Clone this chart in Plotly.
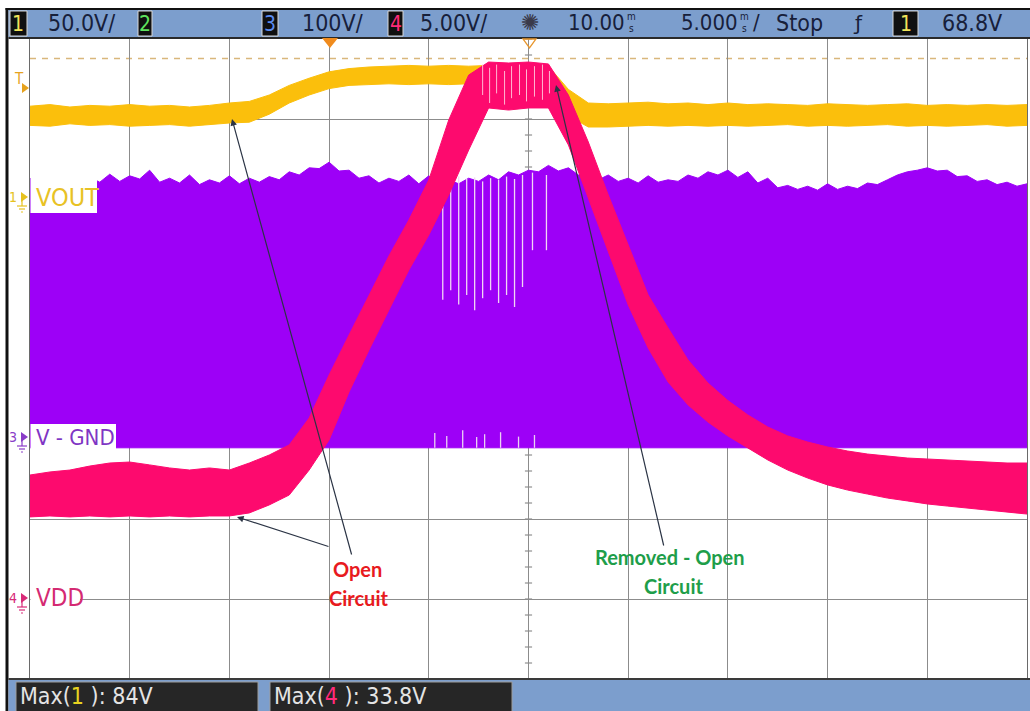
import plotly.graph_objects as go

W, H = 1030, 711

# ---------------- data ----------------
# time base 5 ms/div, delay 10 ms  ->  screen spans -15 .. 35 ms
t_ms = [-15, -14, -13, -12, -11, -10, -9, -8, -7, -6, -5, -4, -3, -2, -1, 0, 1, 2, 3, 4,
        5, 6, 7, 8, 9, 10, 11, 12, 13, 14, 15, 16, 17, 18, 19, 20, 21, 22, 23, 24, 25,
        26, 27, 28, 29, 30, 31, 32, 33, 34, 35]

# channel 1 (VOUT) envelope, volts
ch1_hi_v = [58.0, 59.0, 57.5, 58.5, 58.0, 59.0, 58.0, 58.5, 57.5, 58.5,
            60.0, 61.0, 65.0, 71.0, 75.5,
            79.5, 81.5, 82.5, 83.0, 83.5, 83.0, 83.5, 83.0, 83.5, 83.0, 83.5, 83.0,
            68.5, 60.0, 59.5,
            60.0, 60.5, 59.5, 60.0, 59.0, 60.0, 59.0, 59.5, 59.0, 58.5, 59.5,
            59.0, 58.5, 59.0, 59.5, 58.5, 59.0, 58.5, 59.0, 58.5, 59.0]
ch1_lo_v = [46.0, 45.5, 47.0, 46.0, 46.5, 45.5, 46.0, 46.5, 45.5, 46.5,
            47.5, 48.0, 53.0, 60.0, 65.0,
            69.0, 71.0, 71.5, 72.0, 71.5, 72.0, 71.5, 72.0, 72.0, 71.5, 72.0, 71.5,
            52.0, 45.0, 45.0, 45.5, 46.0, 45.5, 46.0, 45.5, 46.0, 45.5, 46.0, 46.5,
            45.5, 46.0, 45.5, 46.0, 46.5, 45.5, 46.0, 45.5, 46.0, 46.5, 45.5, 46.0]

# channel 4 (VDD) envelope, volts
ch4_hi_v = [7.75, 7.94, 8.06, 8.31, 8.5, 8.56, 8.38, 8.19, 8.06, 8.19,
            8.06, 8.5, 9.0, 9.63, 11.31,
            14.0, 16.5, 18.94, 21.44, 23.69,
            26.19, 29.94, 32.75, 33.56, 33.5,
            33.56, 33.44, 31.5, 28.56, 25.25,
            22.13, 19.0, 16.94, 14.94, 13.5,
            12.4, 11.5, 10.75, 10.19, 9.81,
            9.5, 9.25, 9.06, 8.94, 8.81,
            8.75, 8.69, 8.63, 8.56, 8.5, 8.5]
ch4_lo_v = [5.13, 5.19, 5.13, 5.19, 5.13, 5.19, 5.13, 5.19, 5.13, 5.19,
            5.19, 5.38, 5.88, 6.5, 8.06,
            9.94, 12.94, 15.56, 18.06, 20.56,
            22.75, 25.25, 28.06, 30.69, 30.56,
            30.69, 30.69, 28.38, 25.06, 21.69,
            18.38, 15.69, 13.56, 12.13, 11.06,
            10.19, 9.44, 8.69, 8.06, 7.56,
            7.13, 6.81, 6.56, 6.31, 6.13,
            5.94, 5.81, 5.69, 5.56, 5.44, 5.31]

# channel 3 (V - GND) switching envelope, volts
t3_ms = [-15.0, -14.5, -14.0, -13.5, -13.0, -12.5, -12.0, -11.5, -11.0, -10.5,
         -10.0, -9.5, -9.0, -8.5, -8.0, -7.5, -7.0, -6.5, -6.0, -5.5,
         -5.0, -4.5, -4.0, -3.5, -3.0, -2.5, -2.0, -1.5, -1.0, -0.5,
         0.0, 0.5, 1.0, 1.5, 2.0, 2.5, 3.0, 3.5, 4.0, 4.5,
         5.0, 5.5, 6.0, 6.5, 7.0, 7.5, 8.0, 8.5, 9.0, 9.5,
         10.0, 10.5, 11.0, 11.5, 12.0, 12.5, 13.0, 13.5, 14.0, 14.5,
         15.0, 15.5, 16.0, 16.5, 17.0, 17.5, 18.0, 18.5, 19.0, 19.5,
         20.0, 20.5, 21.0, 21.5, 22.0, 22.5, 23.0, 23.5, 24.0, 24.5,
         25.0, 25.5, 26.0, 26.5, 27.0, 27.5, 28.0, 28.5, 29.0, 29.5,
         30.0, 30.5, 31.0, 31.5, 32.0, 32.5, 33.0, 33.5, 34.0, 34.5, 35.0]
ch3_hi_v = [326, 318, 329, 322, 330, 320, 327, 321, 331, 322,
            329, 325, 336, 321, 326, 320, 330, 318, 324, 320,
            329, 319, 326, 321, 328, 324, 334, 330, 339, 338,
            346, 335, 336, 326, 329, 320, 326, 322, 330, 319,
            329, 318, 324, 319, 326, 322, 330, 324, 334, 330,
            336, 334, 342, 335, 339, 330, 334, 324, 330, 322,
            326, 320, 329, 321, 324, 322, 330, 326, 334, 330,
            336, 327, 334, 320, 326, 314, 317, 312, 316, 311,
            319, 312, 316, 313, 320, 318, 324, 330, 334, 336,
            339, 335, 336, 328, 329, 322, 324, 318, 321, 316, 319]
t3_base_ms = [-15, 35]
ch3_lo_v = [-11, -11]

# gaps (missing pulses) inside the ch3 envelope
gap_t_ms = [5.7, 6.1, 6.5, 6.9, 7.3, 7.7, 8.1, 8.5, 8.9, 9.3, 9.7, 10.2, 10.9]
gap_top_v = [326, 324, 328, 325, 327, 322, 326, 324, 328, 325, 330, 333, 330]
gap_bot_v = [174, 186, 168, 180, 161, 176, 186, 170, 180, 165, 190, 236, 236]
bgap_t_ms = [5.3, 5.9, 6.7, 7.4, 7.8, 8.6, 9.5, 10.3]
bgap_top_v = [7.5, 3.8, 11.0, 2.5, 6.0, 8.5, 3.0, 5.0]
# gaps inside the ch4 plateau
pgap_t_ms = [7.7, 8.05, 8.4, 8.8, 9.15, 9.55, 9.9, 10.3, 10.7, 11.05]
pgap_top_v = [33.4, 33.2, 33.4, 33.0, 33.3, 33.4, 33.1, 33.3, 33.4, 33.0]
pgap_bot_v = [31.5, 31.0, 31.6, 30.9, 31.3, 31.5, 31.1, 31.4, 31.2, 31.6]

# channel settings (V/div, ground position in divisions)
CH1_SCALE, CH1_POS = 50.0, 2.0
CH3_SCALE, CH3_POS = 100.0, -1.0
CH4_SCALE, CH4_POS = 5.0, -3.0
CURSOR_V = 87.8  # dashed level line on ch1

top_labels = ["50.0V/", "100V/", "5.00V/", "10.00", "5.000", "Stop", "68.8V"]
max1_text, max4_text = "84V", "33.8V"

# ---------------- styling ----------------
C1 = "#fbbf0c"
C3 = "#9d00f7"
C4 = "#fd0a6e"
BAR = "#7c9ecd"
NARROW = "Liberation Sans Narrow, DejaVu Sans Condensed, Roboto, sans-serif"
BOLD = "Lato, Open Sans, sans-serif"


def dv(vals, scale, pos):
    return [v / scale + pos for v in vals]


def px(x):
    return x / W


def py(y):
    return 1 - y / H


fig = go.Figure()


def band(t_lo, lo, t_hi, hi, color, lw=1.0):
    fig.add_trace(go.Scatter(x=t_lo, y=lo, mode="lines", line=dict(color=color, width=lw),
                             hoverinfo="skip", showlegend=False))
    fig.add_trace(go.Scatter(x=t_hi, y=hi, mode="lines", line=dict(color=color, width=lw),
                             fill="tonexty", fillcolor=color, hoverinfo="skip", showlegend=False))


def segs(ts, tops, bots):
    xs, ys = [], []
    for t, a, b in zip(ts, tops, bots):
        xs += [t, t, None]
        ys += [a, b, None]
    return xs, ys


# ch3
band(t3_base_ms, dv(ch3_lo_v, CH3_SCALE, CH3_POS), t3_ms, dv(ch3_hi_v, CH3_SCALE, CH3_POS), C3)
gx, gy = segs(gap_t_ms, dv(gap_top_v, CH3_SCALE, CH3_POS), dv(gap_bot_v, CH3_SCALE, CH3_POS))
fig.add_trace(go.Scatter(x=gx, y=gy, mode="lines", line=dict(color="#f2d4f4", width=1.3),
                         hoverinfo="skip", showlegend=False))
bx, by = segs(bgap_t_ms, dv(bgap_top_v, CH3_SCALE, CH3_POS), dv([-11] * len(bgap_t_ms), CH3_SCALE, CH3_POS))
fig.add_trace(go.Scatter(x=bx, y=by, mode="lines", line=dict(color="#ecd0f2", width=1.3),
                         hoverinfo="skip", showlegend=False))
# ch1
band(t_ms, dv(ch1_lo_v, CH1_SCALE, CH1_POS), t_ms, dv(ch1_hi_v, CH1_SCALE, CH1_POS), C1)
# ch4
band(t_ms, dv(ch4_lo_v, CH4_SCALE, CH4_POS), t_ms, dv(ch4_hi_v, CH4_SCALE, CH4_POS), C4)
qx, qy = segs(pgap_t_ms, dv(pgap_top_v, CH4_SCALE, CH4_POS), dv(pgap_bot_v, CH4_SCALE, CH4_POS))
fig.add_trace(go.Scatter(x=qx, y=qy, mode="lines", line=dict(color="#ffb8d2", width=1),
                         hoverinfo="skip", showlegend=False))

shapes = []


def rect(x0, y0, x1, y1, fill, line=None, lw=0, layer="above"):
    shapes.append(dict(type="rect", xref="paper", yref="paper", x0=px(x0), x1=px(x1),
                       y0=py(y1), y1=py(y0), fillcolor=fill,
                       line=dict(color=line or fill, width=lw), layer=layer))


def poly(pts, fill=None, line=None, lw=1, closed=True, layer="above"):
    p = "M " + " L ".join(f"{px(x):.5f},{py(y):.5f}" for x, y in pts) + (" Z" if closed else "")
    d = dict(type="path", xref="paper", yref="paper", path=p, layer=layer,
             line=dict(color=line or fill or "rgba(0,0,0,0)", width=lw if line else 0))
    if fill:
        d["fillcolor"] = fill
    shapes.append(d)


# centre graticule ticks
for i in range(-20, 21):
    yv = i * 0.2
    shapes.append(dict(type="line", xref="x", yref="y", x0=9.82, x1=10.18, y0=yv, y1=yv,
                       line=dict(color="#7a7a7a", width=1), layer="below"))
for i in range(-25, 26):
    xv = 10 + i * 1.0
    shapes.append(dict(type="line", xref="x", yref="y", x0=xv, x1=xv, y0=-0.045, y1=0.045,
                       line=dict(color="#7a7a7a", width=1), layer="below"))
# dashed level line
shapes.append(dict(type="line", xref="x", yref="y", x0=-15, x1=35,
                   y0=CURSOR_V / CH1_SCALE + CH1_POS, y1=CURSOR_V / CH1_SCALE + CH1_POS,
                   line=dict(color="#d9b77c", width=1.3, dash="6px,6px"), layer="below"))

# frame, bars
rect(5.5, 8, 1030, 10, "#111111")
rect(5.5, 8, 8.5, 711, "#111111")
rect(8.5, 10, 1030, 37, BAR)
rect(8.5, 37, 1030, 39, "#2a2a2a")
rect(8.5, 678, 1030, 680, "#3a3a3a")
rect(8.5, 680, 1030, 711, BAR)
rect(16, 682, 258, 712, "#262626", "#9c9c9c", 1)
rect(270, 682, 512, 712, "#262626", "#9c9c9c", 1)

# badges
badges = [(10, 27, "1", "#f2e45a"), (138, 152, "2", "#5fe35f"), (262, 278, "3", "#5b8cf0"),
          (388, 403, "4", "#ff2a7a"), (893, 918, "1", "#f2e45a")]
for x0, x1, _, _ in badges:
    rect(x0, 11, x1, 36, "#101010", "#d8d8d8", 1)

# trigger / delay markers
poly([(322, 38), (338, 38), (330, 48)], fill="#f08b1d")
poly([(523, 39), (536, 39), (529.5, 48)], line="#e8962c", lw=1.3)

# label backgrounds
rect(30.5, 160, 97, 213, "white")
rect(30.5, 424, 116, 449, "white")
rect(30.5, 588, 80, 610, "white")


# left-margin channel markers
def marker(y, color):
    poly([(21, y - 5), (28, y), (21, y + 5)], fill=color)
    poly([(22, y + 2), (22, y + 9)], line=color, lw=1.2, closed=False)
    poly([(17, y + 9), (27, y + 9)], line=color, lw=1.2, closed=False)
    poly([(19, y + 12), (25, y + 12)], line=color, lw=1.2, closed=False)
    poly([(21, y + 15), (23, y + 15)], line=color, lw=1.2, closed=False)


marker(197, "#e6c21e")
marker(437, "#8a3cc8")
marker(598, "#d82a78")
poly([(22, 83), (29, 88), (22, 93)], fill="#e6a21e")

ann = []


def txt(x, y, s, size, color, family=NARROW, xanchor="center", **kw):
    ann.append(dict(xref="paper", yref="paper", x=px(x), y=py(y), text=s, showarrow=False,
                    xanchor=xanchor, yanchor="middle",
                    font=dict(size=size, color=color, family=family), **kw))


TXT = "#17203a"
for x0, x1, s, c in badges:
    txt((x0 + x1) / 2, 24, s, 21, c)
txt(81, 23, top_labels[0], 23, TXT)
txt(332, 23, top_labels[1], 23, TXT)
txt(453, 23, top_labels[2], 23, TXT)
txt(530, 23, "✺", 22, "#3a3a4a", family="DejaVu Sans")
txt(566, 23, top_labels[3], 22, TXT, xanchor="left")
txt(631, 17, "m", 10, TXT)
txt(631, 29, "s", 10, TXT)
txt(679, 23, top_labels[4], 22, TXT, xanchor="left")
txt(744, 17, "m", 10, TXT)
txt(744, 29, "s", 10, TXT)
txt(756, 23, "/", 22, TXT)
txt(799, 23, top_labels[5], 23, TXT)
txt(858, 23, "ƒ", 20, TXT, family="DejaVu Sans")
txt(972, 23, top_labels[6], 23, TXT)

txt(18, 696, f"Max(<span style='color:#e8d420'>1</span> ): {max1_text}", 23, "#e4e4e4", xanchor="left")
txt(272, 696, f"Max(<span style='color:#ff2a7a'>4</span> ): {max4_text}", 23, "#e4e4e4", xanchor="left")

txt(19, 79, "T", 15, "#e6a21e")
txt(13, 197, "1", 14, "#e6c21e")
txt(13, 437, "3", 14, "#8a3cc8")
txt(13, 598, "4", 14, "#d82a78")
txt(34, 197, "VOUT", 25, "#e8c224", xanchor="left")
txt(34, 437, "V - GND", 22, "#7f35c4", xanchor="left")
txt(34, 598, "VDD", 24, "#d42a72", xanchor="left")

txt(357, 569, "<b>Open</b>", 20, "#e81a20", family=BOLD)
txt(358, 598, "<b>Circuit</b>", 20, "#e81a20", family=BOLD)
txt(670, 557, "<b>Removed - Open</b>", 20, "#1e9e4a", family=BOLD)
txt(673, 586, "<b>Circuit</b>", 20, "#1e9e4a", family=BOLD)

# arrows: (tip time ms, tip div, tail dx px, tail dy px)
arrows = [(-4.87, 3.0, 120, 437), (-4.62, -1.975, 93, 30), (11.38, 3.425, 108, 462)]
for tx, ty, ax, ay in arrows:
    ann.append(dict(xref="x", yref="y", x=tx, y=ty, ax=ax, ay=ay, text="", showarrow=True,
                    arrowhead=2, arrowsize=1.1, arrowwidth=1.2, arrowcolor="#2b3445"))

fig.update_layout(
    width=W, height=H, margin=dict(l=0, r=0, t=0, b=0),
    paper_bgcolor="white", plot_bgcolor="white",
    shapes=shapes, annotations=ann,
    xaxis=dict(domain=[px(30), px(1027)], range=[-15, 35], dtick=5, tick0=-15,
               showgrid=True, gridcolor="#8c8c8c", gridwidth=1, zeroline=False,
               showticklabels=False, ticks="", showline=True, linecolor="#6a6a6a",
               mirror=True, fixedrange=True),
    yaxis=dict(domain=[py(679), py(39)], range=[-4, 4], dtick=1, tick0=-4,
               showgrid=True, gridcolor="#8c8c8c", gridwidth=1, zeroline=False,
               showticklabels=False, ticks="", showline=True, linecolor="#6a6a6a",
               mirror=True, fixedrange=True),
)

fig.write_html("out.html", config={"displayModeBar": False})
